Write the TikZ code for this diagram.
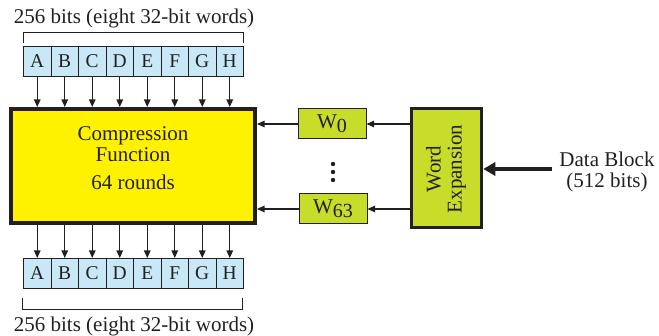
\documentclass[tikz,border=0pt]{standalone}
\usepackage{fontspec}
\setmainfont{Liberation Serif}
\usetikzlibrary{arrows.meta}
\definecolor{regblue}{RGB}{200,232,248}
\definecolor{cfyellow}{RGB}{255,242,0}
\definecolor{wgreen}{RGB}{200,220,42}
\definecolor{edge}{RGB}{35,31,32}
\tikzset{
  x=1pt, y=1pt,
  txt/.style={font=\fontsize{21}{21}\selectfont, text=edge, inner sep=0pt},
  reg/.style={draw=edge, line width=1pt, fill=regblue, minimum width=27.5pt, minimum height=30pt,
    inner sep=0pt, anchor=south west, text=edge, font=\fontsize{19.5}{21}\selectfont},
  wbox/.style={draw=edge, line width=1pt, fill=wgreen, minimum width=68pt, minimum height=30pt,
    inner sep=0pt, txt},
  arr/.style={edge, line width=1.1pt, -{Triangle[length=7.5pt,width=6.5pt]}},
  brace/.style={edge, line width=0.9pt},
}
\begin{document}
\begin{tikzpicture}
\useasboundingbox (0,0) rectangle (659,336);
% top register
\foreach \l [count=\i] in {A,B,C,D,E,F,G,H}
  \node[reg] (t\i) at ({23+27.5*(\i-1)},259) {\l};
% bottom register
\foreach \l [count=\i] in {A,B,C,D,E,F,G,H}
  \node[reg] (b\i) at ({23+27.5*(\i-1)},47) {\l};

% compression function
\node[draw=edge, line width=4pt, fill=cfyellow, minimum width=244pt, minimum height=114pt,
  inner sep=0pt] (cf) at (133,170) {};
\node[txt, align=center] (cft) at (133,192) {Compression\\Function};
\node[txt] (cfr) at (133,154) {64 rounds};

% brackets and labels
\draw[brace] (23,293) coordinate (tb1) -- (23,304) -- (243,304) -- (243,293) coordinate (tb2);
\node[txt] (ttop) at (134,318) {256 bits (eight 32-bit words)};
\draw[brace] (22,38) coordinate (bb1) -- (22,27) -- (242,27) -- (242,38) coordinate (bb2);
\node[txt] (tbot) at (134,10) {256 bits (eight 32-bit words)};

% register arrows
\foreach \i in {1,...,8} {
  \draw[arr] (t\i.south) -- (t\i.south |- cf.north);
  \draw[arr] (cf.south -| b\i.north) -- (b\i.north);
}

% word boxes
\node[wbox] (w0) at (332,212) {W\raisebox{-4pt}{\fontsize{20}{20}\selectfont 0}};
\node[wbox] (w63) at (333,127) {W\raisebox{-4pt}{\fontsize{20}{20}\selectfont 63}};
\foreach \yy in {172,164,156} \fill[edge] (333,\yy) circle (2.2pt);

% word expansion
\node[draw=edge, line width=3.5pt, fill=wgreen, minimum width=70pt, minimum height=119pt,
  inner sep=0pt] (we) at (446.5,168) {};
\node[txt, rotate=90, align=center] (wet) at (446,167) {Word\\Expansion};

\draw[arr] (w0.west) -- (w0.west -| cf.east);
\draw[arr] (w63.west) -- (w63.west -| cf.east);
\draw[arr] (w0.east -| we.west) -- (w0.east);
\draw[arr] (w63.east -| we.west) -- (w63.east);

% data block input
\node[txt, align=center] (db) at (607,164) {Data Block\\(512 bits)};
\coordinate (dbs) at (552,167);
\draw[edge, line width=4pt, -{Triangle[length=12pt,width=13pt]}] (dbs) -- (dbs -| we.east);
\end{tikzpicture}
\end{document}
